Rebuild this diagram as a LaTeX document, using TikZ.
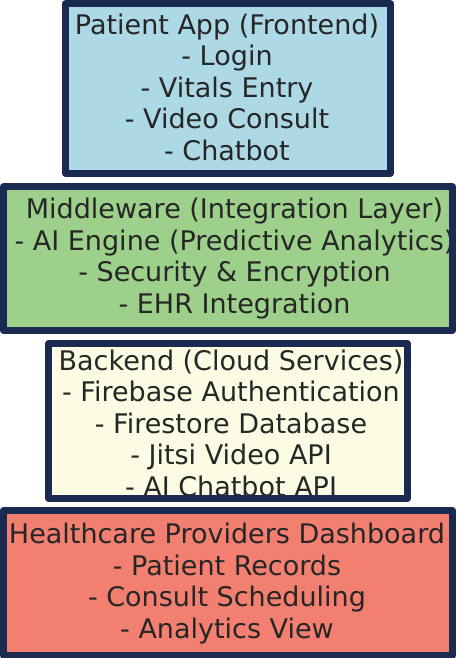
\documentclass[tikz,border=0pt]{standalone}
\usepackage{fontspec}
\setmainfont{DejaVu Sans}
\definecolor{navy}{RGB}{27,42,80}
\definecolor{txt}{RGB}{38,38,38}
\definecolor{cblue}{RGB}{173,216,230}
\definecolor{cgreen}{RGB}{157,208,138}
\definecolor{cyellow}{RGB}{252,252,228}
\definecolor{cred}{RGB}{242,127,112}
\begin{document}
\begin{tikzpicture}[x=1pt,y=-1pt,
  boxfill/.style={rectangle, inner sep=0pt, draw=none},
  border/.style={draw=navy, line width=7pt, line join=round},
  label/.style={anchor=north, inner sep=0pt, align=center, text=txt,
    font=\fontsize{27}{31.5}\selectfont}]
\useasboundingbox (0,0) rectangle (456,658);
% fills
\node[boxfill, fill=cblue, minimum width=324pt, minimum height=169pt] (b1) at (228,88.5) {};
\node[boxfill, fill=cgreen, minimum width=449pt, minimum height=143pt] (b2) at (228,258.5) {};
\node[boxfill, fill=cyellow, minimum width=358pt, minimum height=155pt] (b3) at (228,421) {};
\node[boxfill, fill=cred, minimum width=449pt, minimum height=144pt] (b4) at (228,583) {};
% texts
\node[label] (t1) at (227,13.5) {Patient App (Frontend)\\- Login\\- Vitals Entry\\- Video Consult\\- Chatbot};
\node[label] (t2) at (234.5,197.8) {Middleware (Integration Layer)\\- AI Engine (Predictive Analytics)\\- Security \& Encryption\\- EHR Integration};
\node[label] (t3) at (231,349.5) {Backend (Cloud Services)\\- Firebase Authentication\\- Firestore Database\\- Jitsi Video API\\- AI Chatbot API};
\node[label] (t4) at (227,522.8) {Healthcare Providers Dashboard\\- Patient Records\\- Consult Scheduling\\- Analytics View};
% borders on top
\draw[border] (b1.north west) rectangle (b1.south east);
\draw[border] (b2.north west) rectangle (b2.south east);
\draw[border] (b3.north west) rectangle (b3.south east);
\draw[border] (b4.north west) rectangle (b4.south east);
\end{tikzpicture}
\end{document}
